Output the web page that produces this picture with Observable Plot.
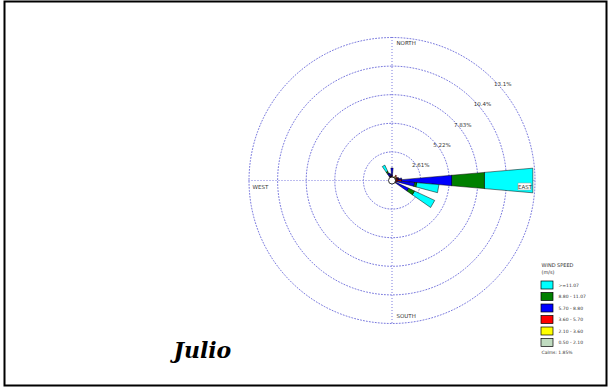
<!DOCTYPE html>
<html><head><meta charset="utf-8">
<script src="https://cdn.jsdelivr.net/npm/d3@7"></script>
<script src="https://cdn.jsdelivr.net/npm/@observablehq/plot@0.6"></script>
<style>body{margin:0;background:#fff;} svg{display:block;}</style>
</head><body><div id="chart"></div>
<script>
// ---- data ----
const directions = [0, 20, 40, 60, 70, 80, 90, 100, 110, 120, 130, 180, 230, 270, 300, 320, 330, 340, 350];
const calmGrey = [0.15,0.15,0.3,0.3,0.2,0.15,0.1,0.1,0.1,0.1,0.1,0.1,0.1,0.15,0.1,0.1,0.15,0.15,0.15];
const yellowS  = [0.1,0.1,0.2,0.15,0.15,0.15,0.2,0.1,0.1,0.1,0.1,0.05,0.05,0.05,0.05,0.05,0.1,0.1,0.1];
const redS     = [0.2,0.1,0.1,0.1,0.2,0.3,0.6,0.3,0.1,0.2,0.1,0,0,0,0,0.05,0.2,0.15,0.15];
const blueS    = [0.7,0,0,0,0.1,0.3,4.6,1.6,0,1.3,0,0,0,0,0,0,0.3,0.3,0.2];
const greenS   = [0,0,0,0,0,0,3.0,0.2,0,0.6,0,0,0,0,0,0,0.2,0,0];
const cyanS    = [0,0,0,0,0,0,4.4,2.0,0,2.0,0,0,0,0,0,0,0.6,0,0];
const classSeries = [calmGrey, yellowS, redS, blueS, greenS, cyanS]; // inner -> outer
const classColors = ["#C0DCC0", "#FFFF00", "#FF0000", "#0000FF", "#008000", "#00FFFF"];
const legendLabels = [">=11.07", "8.80 - 11.07", "5.70 - 8.80", "3.60 - 5.70", "2.10 - 3.60", "0.50 - 2.10"];
const legendColors = ["#00FFFF", "#008000", "#0000FF", "#FF0000", "#FFFF00", "#C0DCC0"];
const ringValues = [2.61, 5.22, 7.83, 10.44, 13.05];
const ringLabels = ["2.61%", "5.22%", "7.83%", "10.4%", "13.1%"];
const calmsText = "Calms: 1.85%";
const titleText = "Julio";

// ---- layout ----
const W = 613, H = 389, cx = 391.5, cy = 180, k = 143 / 13.05;
const X = px => (px - cx) / k, Y = py => (cy - py) / k;
const pol = (r, az) => [r * Math.sin(az * Math.PI / 180), r * Math.cos(az * Math.PI / 180)];
const halfW = 5;
const labelAz = [62, 55, 52, 50, 49];
const gridColor = "#7a7ade";

const rings = [];
ringValues.forEach((r, i) => { for (let a = 0; a < 360; a += 2) { const [x, y] = pol(r, a); rings.push({ring: i, x, y}); } });

const petals = [];
directions.forEach((d, i) => {
  let r0 = 0;
  classSeries.forEach((s, c) => {
    const v = s[i];
    if (v > 0) {
      const r1 = r0 + v;
      [[r0, d - halfW], [r1, d - halfW], [r1, d + halfW], [r0, d + halfW]].forEach(([r, a]) => {
        const [x, y] = pol(r, a); petals.push({id: `${d}-${c}`, x, y, color: classColors[c]});
      });
      r0 = r1;
    }
  });
});

const ringLabelData = ringValues.map((r, i) => { const [x, y] = pol(r + 0.35, labelAz[i]); return {x, y, t: ringLabels[i]}; });
const R = ringValues[ringValues.length - 1];
const legendRows = legendLabels.map((t, i) => ({t, color: legendColors[i], top: 281 + i * 11.5}));

const plot = Plot.plot({
  width: W, height: H, margin: 0,
  x: {domain: [X(0), X(W)], axis: null},
  y: {domain: [Y(H), Y(0)], axis: null},
  color: {type: "identity"},
  style: {background: "#fff", fontFamily: "DejaVu Sans"},
  marks: [
    Plot.rect([0], {x1: X(4.5), x2: X(606.5), y1: Y(1.5), y2: Y(385.5), fill: "none", stroke: "black", strokeWidth: 2}),
    Plot.line(rings, {x: "x", y: "y", z: "ring", stroke: gridColor, strokeWidth: 1, strokeDasharray: "1 2", curve: "linear-closed"}),
    Plot.ruleX([0], {y1: -R, y2: R, stroke: gridColor, strokeDasharray: "1 2"}),
    Plot.ruleY([0], {x1: -R, x2: R, stroke: gridColor, strokeDasharray: "1 2"}),
    Plot.text(ringLabelData, {x: "x", y: "y", text: "t", fontSize: 5.5, fill: "#333"}),
    Plot.text(["NORTH"], {x: X(396), y: Y(43), text: d => d, textAnchor: "start", fontSize: 5.5, fill: "#333"}),
    Plot.text(["SOUTH"], {x: X(396), y: Y(316), text: d => d, textAnchor: "start", fontSize: 5.5, fill: "#333"}),
    Plot.text(["WEST"], {x: X(252), y: Y(187), text: d => d, textAnchor: "start", fontSize: 5.5, fill: "#333"}),
    Plot.line(petals, {x: "x", y: "y", z: "id", fill: "color", stroke: "black", strokeWidth: 0.5, curve: "linear-closed"}),
    Plot.rect(["EAST"], {x1: X(518), x2: X(531), y1: Y(183), y2: Y(190), fill: "white", stroke: "#999", strokeWidth: 0.5}),
    Plot.text(["EAST"], {x: X(524.5), y: Y(186.5), text: d => d, fontSize: 5.5, fill: "#333"}),
    Plot.dot([0], {x: 0, y: 0, r: 3.5, fill: "white", stroke: "black", strokeWidth: 0.8}),
    Plot.text(["WIND SPEED"], {x: X(541), y: Y(265), text: d => d, textAnchor: "start", fontSize: 5, fill: "#333"}),
    Plot.text(["(m/s)"], {x: X(541), y: Y(272), text: d => d, textAnchor: "start", fontSize: 5, fill: "#333"}),
    Plot.rect(legendRows, {x1: X(541), x2: X(553), y1: d => Y(d.top), y2: d => Y(d.top + 8), fill: "color", stroke: "black", strokeWidth: 0.7}),
    Plot.text(legendRows, {x: X(558), y: d => Y(d.top + 4), text: "t", textAnchor: "start", fontSize: 4.5, fill: "#333"}),
    Plot.text([calmsText], {x: X(541), y: Y(352), text: d => d, textAnchor: "start", fontSize: 4.5, fill: "#333"}),
    Plot.text([titleText], {x: X(173), y: Y(350), text: d => d, textAnchor: "start", fontSize: 22, fontWeight: "bold", fontStyle: "italic", fontFamily: "DejaVu Serif", fill: "black"})
  ]
});
document.getElementById("chart").appendChild(plot);
</script></body></html>
